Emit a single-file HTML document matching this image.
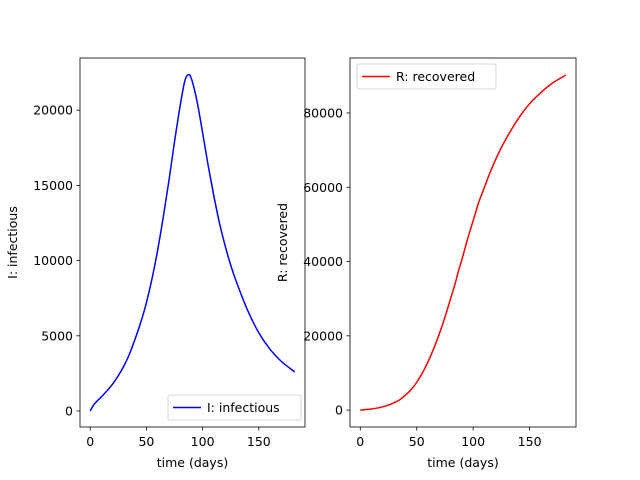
<!DOCTYPE html>
<html><head><meta charset="utf-8"><style>
body{margin:0;background:#fff;}
svg{display:block;font-family:"DejaVu Sans","Liberation Sans",sans-serif;}
</style></head><body>
<svg id="c" width="640" height="480" viewBox="0 0 640 480" xmlns="http://www.w3.org/2000/svg"></svg>
<script>
const days=[0,3,6,10,15,20,25,30,35,40,45,50,55,60,65,70,75,80,84,87,90,95,100,105,110,115,120,125,130,140,150,160,170,182];
const infectious=[0,400,650,950,1350,1800,2350,3000,3800,4800,5900,7200,8800,10700,12900,15300,17900,20300,21900,22350,22100,20600,18500,16300,14300,12500,11000,9700,8600,6700,5200,4100,3300,2600];
const recovered=[0,100,200,300,550,900,1350,2000,2800,4000,5500,7500,10000,13000,16500,20500,25000,30000,34000,37500,40500,46000,51000,56000,60000,64000,67500,70700,73500,78500,82500,85500,88000,90200];
const leftTicks=[0,5000,10000,15000,20000];
const rightTicks=[0,20000,40000,60000,80000];
const xTicks=[0,50,100,150];
const NS="http://www.w3.org/2000/svg";
const svg=document.getElementById('c');
function el(t,a,p){const e=document.createElementNS(NS,t);for(const k in a)e.setAttribute(k,a[k]);(p||svg).appendChild(e);return e;}
function smooth(pts){
  let d='M'+pts[0][0].toFixed(2)+','+pts[0][1].toFixed(2);
  for(let i=0;i<pts.length-1;i++){
    const p0=pts[i-1]||pts[i],p1=pts[i],p2=pts[i+1],p3=pts[i+2]||p2;
    const c1=[p1[0]+(p2[0]-p0[0])/6,p1[1]+(p2[1]-p0[1])/6];
    const c2=[p2[0]-(p3[0]-p1[0])/6,p2[1]-(p3[1]-p1[1])/6];
    d+='C'+c1[0].toFixed(2)+','+c1[1].toFixed(2)+' '+c2[0].toFixed(2)+','+c2[1].toFixed(2)+' '+p2[0].toFixed(2)+','+p2[1].toFixed(2);
  }
  return d;
}
function panel(x0,x1,y0,y1,ymin,ymax,vals,color,yticks,ylabel,legendText,legendPos,nm,ylx){
  const g=el('g',{});
  
  
  const xmin=-9.1,xmax=191.1;
  const sx=v=>x0+(v-xmin)/(xmax-xmin)*(x1-x0);
  const sy=v=>y1-(v-ymin)/(ymax-ymin)*(y1-y0);
  const pts=days.map((t,i)=>[sx(t),sy(vals[i])]);
  const line=el('path',{d:smooth(pts),fill:'none',stroke:color,'stroke-width':1.5},g);
  
  
  const fr=el('rect',{x:x0,y:y0,width:x1-x0,height:y1-y0,fill:'none',stroke:'#000','stroke-width':0.8},g);
  
  
  xTicks.forEach(v=>{const X=sx(v);el('line',{x1:X,x2:X,y1:y1,y2:y1+3.5,stroke:'#000','stroke-width':0.8},g);
    const t=el('text',{x:X,y:y1+19,'text-anchor':'middle','font-size':12.5},g);t.textContent=v;
    });
  yticks.forEach(v=>{const Y=sy(v);el('line',{x1:x0-3.5,x2:x0,y1:Y,y2:Y,stroke:'#000','stroke-width':0.8},g);
    const t=el('text',{x:x0-7,y:Y+4.5,'text-anchor':'end','font-size':12.5},g);t.textContent=v;
    });
  const xl=el('text',{x:(x0+x1)/2,y:467,'text-anchor':'middle','font-size':12.5},g);xl.textContent='time (days)';
  
  const yc=(y0+y1)/2;
  const yl=el('text',{x:ylx,y:yc,'text-anchor':'middle','font-size':12.5,transform:`rotate(-90 ${ylx} ${yc})`},g);yl.textContent=ylabel;
  
  const lg=el('g',{},g);
  
  const [lx,ly,lw]=legendPos;
  el('rect',{x:lx,y:ly,width:lw,height:25,rx:2,fill:'#fff','fill-opacity':0.8,stroke:'#ccc','stroke-width':0.8},lg);
  el('line',{x1:lx+5,x2:lx+33,y1:ly+12.5,y2:ly+12.5,stroke:color,'stroke-width':1.5},lg);
  const lt=el('text',{x:lx+39,y:ly+17,'font-size':12.5},lg);lt.textContent=legendText;
  
}
panel(80,305,58,427,-1064,23471,infectious,'#0000ff',leftTicks,'I: infectious','I: infectious',[168,395,133],'left',17);
panel(350,576,58,427,-4550,94800,recovered,'#ff0000',rightTicks,'R: recovered','R: recovered',[357,64,139],'right',287);
</script>
</body></html>
